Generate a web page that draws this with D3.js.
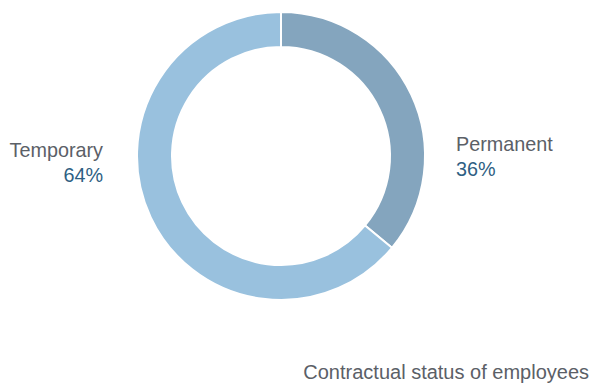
<!DOCTYPE html>
<html>
<head>
<meta charset="utf-8">
<script src="https://cdn.jsdelivr.net/npm/d3@7"></script>
<style>
  body { margin: 0; background: #fff; }
  svg text { font-family: "Liberation Sans", Arial, sans-serif; }
</style>
</head>
<body>
<script>
const categories = ["Permanent", "Temporary"];
const shares = [36, 64];
const colors = ["#84a5be", "#99c1de"];
const title = "Contractual status of employees";

const width = 592, height = 385;
const cx = 281, cy = 156, outerR = 144, innerR = 109;

const svg = d3.select("body").append("svg")
    .attr("width", width)
    .attr("height", height);

const pie = d3.pie().sort(null).value(d => d.value);
const arc = d3.arc().innerRadius(innerR).outerRadius(outerR);

const data = categories.map((c, i) => ({ name: c, value: shares[i], color: colors[i] }));

const g = svg.append("g").attr("transform", `translate(${cx},${cy})`);
g.selectAll("path")
    .data(pie(data))
    .join("path")
    .attr("d", arc)
    .attr("fill", d => d.data.color)
    .attr("stroke", "#fff")
    .attr("stroke-width", 2);

// labels
const labelPos = [
    { x: 456, y: 151, anchor: "start" },
    { x: 103, y: 157, anchor: "end" }
];
data.forEach((d, i) => {
    const p = labelPos[i];
    const t = svg.append("text")
        .attr("x", p.x).attr("y", p.y)
        .attr("text-anchor", p.anchor)
        .attr("font-size", 19.8);
    t.append("tspan").attr("x", p.x).attr("fill", "#5b6067").text(d.name);
    t.append("tspan").attr("x", p.x).attr("dy", 24.5).attr("fill", "#2f5f83").text(d.value + "%");
});

svg.append("text")
    .attr("x", 589).attr("y", 379)
    .attr("text-anchor", "end")
    .attr("font-size", 20)
    .attr("fill", "#5b6067")
    .text(title);
</script>
</body>
</html>
